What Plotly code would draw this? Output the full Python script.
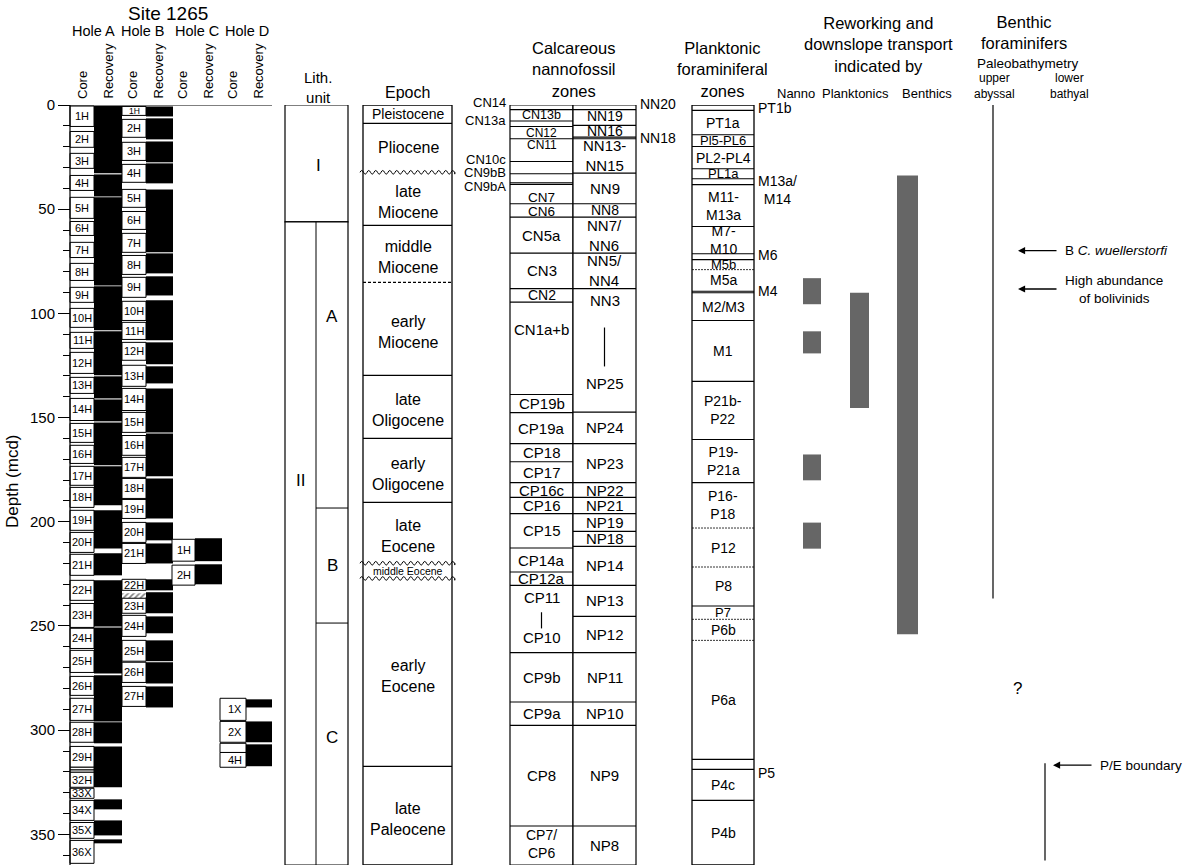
import plotly.graph_objects as go

FONT = "Liberation Sans, Arial, Helvetica, sans-serif"
W, H = 1190, 868
TOP, BOTM = 105, 3
DMAX = 364.7
K = (H - TOP - BOTM) / DMAX


def dep(ypx):
    return (ypx - TOP) / K

# ======================= DATA =======================
# Hole A cores (mcd)
holeA_cores = ["1H", "2H", "3H", "4H", "5H", "6H", "7H", "8H", "9H", "10H", "11H", "12H", "13H", "14H",
               "15H", "16H", "17H", "18H", "19H", "20H", "21H", "22H", "23H", "24H", "25H", "26H", "27H",
               "28H", "29H", "30H", "31H", "32H", "33X", "34X", "35X", "36X"]
holeA_top = [0.5, 12.7, 23.2, 33.8, 44.3, 55.9, 65.9, 76.0, 87.5, 97.6, 109.1, 118.7, 130.7, 140.8, 152.8,
             163.3, 173.4, 183.5, 194.5, 205.1, 215.6, 228.1, 239.2, 251.1, 261.7, 274.2, 284.7, 296.2,
             307.8, 317.8, 319.1, 320.2, 327.9, 333.7, 344.3, 352.9]
holeA_bot = [10.3, 20.3, 30.4, 41.0, 54.4, 62.6, 73.2, 84.2, 94.7, 106.7, 116.8, 128.8, 138.4, 151.4, 161.9,
             172.0, 182.5, 193.1, 204.1, 214.7, 225.7, 237.7, 250.7, 260.8, 272.3, 283.3, 295.3, 305.8,
             317.8, 319.1, 320.2, 327.4, 332.7, 343.3, 351.9, 363.9]
holeA_rec_top = [0.5, 33.3, 44.3, 87.0, 108.6, 130.2, 141.3, 152.3, 173.4, 194.5, 215.1, 228.1, 250.7, 273.7,
                 296.2, 307.8, 333.2, 343.3, 352.4]
holeA_rec_bot = [32.8, 43.9, 86.6, 108.1, 129.7, 140.8, 151.8, 172.9, 192.1, 212.8, 225.7, 250.2, 272.8, 295.8,
                 306.3, 327.4, 338.0, 350.5, 354.3]

# Hole B
holeB_cores = ["1H", "2H", "3H", "4H", "5H", "6H", "7H", "8H", "9H", "10H", "11H", "12H", "13H", "14H",
               "15H", "16H", "17H", "18H", "19H", "20H", "21H", "22H", "23H", "24H", "25H", "26H", "27H"]
holeB_top = [0.7, 6.9, 17.9, 28.5, 40.5, 51.1, 61.6, 72.2, 82.7, 94.2, 104.3, 113.9, 124.9, 136.0, 147.5,
             158.6, 169.1, 179.2, 189.3, 200.3, 210.4, 227.6, 236.7, 244.9, 256.9, 267.4, 279.0]
holeB_bot = [5.0, 15.5, 26.6, 37.1, 49.1, 59.7, 70.7, 81.3, 92.3, 103.4, 112.5, 122.5, 135.0, 146.6, 157.1,
             168.1, 178.7, 188.8, 198.4, 209.9, 220.0, 232.9, 243.9, 255.0, 266.9, 277.1, 288.6]
holeB_rec_top = [0.7, 6.4, 17.5, 28.0, 40.5, 71.2, 82.2, 93.7, 113.9, 125.4, 136.0, 157.6, 179.2, 200.3, 210.4,
                 227.6, 233.8, 245.4, 256.9, 267.4, 279.0]
holeB_rec_bot = [5.5, 16.5, 27.5, 37.6, 70.7, 80.8, 91.4, 112.9, 124.4, 133.6, 157.1, 178.2, 198.4, 208.9, 220.0,
                 232.9, 243.9, 253.5, 266.9, 277.6, 289.1]
holeB_void_top = [234.3]
holeB_void_bot = [236.7]

# Hole C
holeC_cores = ["1H", "2H"]
holeC_top = [208.4, 220.8]
holeC_bot = [218.9, 230.4]
holeC_rec_top = [207.9, 220.4]
holeC_rec_bot = [218.9, 230.0]

# Hole D
holeD_cores = ["1X", "2X", "3X", "4H"]
holeD_top = [284.7, 295.8, 306.3, 310.7]
holeD_bot = [295.3, 305.8, 310.7, 317.8]
holeD_rec_top = [285.2, 295.8, 306.8]
holeD_rec_bot = [289.1, 305.8, 317.3]

# Lithologic units
lith_units = ["I", "II"]
lith_bounds = [0, 56.1, DMAX]
lith_subunits = ["A", "B", "C"]
lith_sub_bounds = [56.1, 193.4, 248.6, DMAX]

# Epochs
epochs = ["Pleistocene", "Pliocene", "late<br>Miocene", "middle<br>Miocene", "early<br>Miocene",
          "late<br>Oligocene", "early<br>Oligocene", "late<br>Eocene", "middle Eocene", "early<br>Eocene",
          "late<br>Paleocene"]
epoch_bounds = [0, 8.8, 32.3, 57.8, 85.1, 129.7, 160.0, 190.7, 219.9, 227.2, 317.4, DMAX]
epoch_contacts = ["solid", "wavy", "solid", "dash", "solid", "solid", "solid", "wavy", "wavy", "solid"]

# Calcareous nannofossil zones, Okada & Bukry (CN/CP)
cn_zones = ["CN14", "CN13b", "CN13a", "CN12", "CN11", "CN10c", "CN9bB", "CN9bA", "CN7", "CN6", "CN5a", "CN3",
            "CN2", "CN1a+b", "CP19b", "CP19a", "CP18", "CP17", "CP16c", "CP16", "CP15", "CP14a", "CP12a",
            "CP11<br>|<br>CP10", "CP9b", "CP9a", "CP8", "CP7/<br>CP6"]
cn_bounds = [0, 2.2, 7.7, 10.3, 16.2, 27.1, 33.0, 37.3, 38.1, 47.4, 53.8, 71.1, 88.1, 94.6, 138.9, 147.6,
             162.5, 171.2, 181.2, 188.3, 196.1, 212.6, 224.1, 230.5, 262.8, 286.5, 297.7, 346.0, DMAX]

# Martini zones (NN/NP)
nn_zones = ["NN20", "NN19", "NN16", "NN18", "NN13-<br>NN15", "NN9", "NN8", "NN7/<br>NN6", "NN5/<br>NN4",
            "NN3<br>|<br>NP25", "NP24", "NP23", "NP22", "NP21", "NP19", "NP18", "NP14", "NP13", "NP12", "NP11",
            "NP10", "NP9", "NP8"]
nn_bounds = [0, 2.2, 9.8, 15.4, 16.2, 32.7, 47.4, 53.8, 71.1, 88.1, 147.4, 162.5, 181.2, 188.3, 196.1, 204.6,
             211.8, 230.5, 245.4, 262.8, 286.5, 297.7, 346.0, DMAX]

# Planktonic foraminiferal zones
pf_zones = ["PT1b", "PT1a", "Pl5-PL6", "PL2-PL4", "PL1a", "M13a/<br>M14", "M11-<br>M13a", "M7-<br>M10", "M6",
            "M5b", "M5a", "M4", "M2/M3", "M1", "P21b-<br>P22", "P19-<br>P21a", "P16-<br>P18", "P12", "P8", "P7",
            "P6b", "P6a", "P5", "P4c", "P4b"]
pf_bounds = [0, 2.6, 14.3, 19.9, 30.6, 35.4, 38.2, 58.3, 71.4, 74.2, 79.0, 89.4, 90.1, 103.4, 132.6, 160.5,
             181.2, 203.0, 221.7, 240.4, 246.8, 256.9, 314.0, 318.8, 333.7, DMAX]
pf_contacts = ["solid", "solid", "solid", "solid", "solid", "solid", "solid", "solid", "solid", "dot", "solid",
               "solid", "solid", "solid", "solid", "solid", "dot", "dot", "solid", "dot", "dot", "solid",
               "solid", "solid"]

# Reworking / downslope transport intervals
rw_nanno_top = [83.1, 108.6, 167.7, 200.4]
rw_nanno_bot = [95.6, 119.2, 180.1, 212.9]
rw_plank_top = [90.1]
rw_plank_bot = [145.4]
rw_benth_top = [33.8]
rw_benth_bot = [254.0]

# Benthic foraminifer paleobathymetry lines
pb_upper_abyssal = [0, 236.8]
pb_lower_bathyal = [315.9, 362.5]
events = ["B <i>C. wuellerstorfi</i>", "High abundance<br>of bolivinids", "P/E boundary"]
event_depths = [69.9, 88.3, 316.8]

ytick_vals = [0, 50, 100, 150, 200, 250, 300, 350]

# ======================= DRAWING =======================
shapes = []
ann = []


def rect(x0, x1, y0, y1, fill="white", lw=1.0, lc="black"):
    shapes.append(dict(type="rect", xref="x", yref="y", x0=x0, x1=x1, y0=y0, y1=y1,
                       fillcolor=fill, line=dict(color=lc, width=lw)))


def line(x0, x1, y0, y1, lw=1.0, dash="solid", color="black"):
    shapes.append(dict(type="line", xref="x", yref="y", x0=x0, x1=x1, y0=y0, y1=y1,
                       line=dict(color=color, width=lw, dash=dash)))


def wavy(x0, x1, y, amp_px=1.8, per_px=7.0, lw=1.0):
    amp = amp_px / K
    p = f"M{x0},{y}"
    x = x0
    s = 1
    while x < x1:
        xn = min(x + per_px / 2, x1)
        p += f" Q{(x + xn) / 2},{y - s * amp * 2} {xn},{y}"
        x = xn
        s = -s
    shapes.append(dict(type="path", xref="x", yref="y", path=p, line=dict(color="black", width=lw)))


def text(x, y, s, size=14, xanchor="center", yanchor="middle", angle=0, color="black"):
    # y given as depth (m); placed in paper coordinates so texts above the 0 m line still show
    ann.append(dict(x=x, y=1 - y / DMAX, xref="x", yref="paper", text=s, showarrow=False,
                    font=dict(family=FONT, size=size, color=color),
                    xanchor=xanchor, yanchor=yanchor, textangle=angle))


# ---- core columns ----
def draw_hole(names, tops, bots, rtops, rbots, xc0, xc1, xr1, fs=11, labels_right=False, small_first=False):
    for i, (n, t, b) in enumerate(zip(names, tops, bots)):
        rect(xc0, xc1, t, b, lw=1.0)
        if b - t > 4.5 or (small_first and i == 0):
            size = fs if b - t > 4.5 else 8.5
            if labels_right:
                text(xc1 - 2, (t + b) / 2, n, size=size, xanchor="right")
            else:
                text((xc0 + xc1) / 2, (t + b) / 2, n, size=size)
    for t, b in zip(rtops, rbots):
        rect(xc1, xr1, t, b, fill="black", lw=0)


draw_hole(holeA_cores, holeA_top, holeA_bot, holeA_rec_top, holeA_rec_bot, 70, 94, 122)
draw_hole(holeB_cores, holeB_top, holeB_bot, holeB_rec_top, holeB_rec_bot, 122, 146, 173, small_first=True)
draw_hole(holeC_cores, holeC_top, holeC_bot, holeC_rec_top, holeC_rec_bot, 172, 195, 222)
draw_hole(holeD_cores, holeD_top, holeD_bot, holeD_rec_top, holeD_rec_bot, 220, 246, 272, labels_right=True)
# left border / axis line of Hole A
line(70, 70, 0, DMAX, lw=1.2)
# top (0 m) line across holes
line(58, 272, 0, 0, lw=1.2)

# ---- lithology ----
text_l_depth = {"I": 28.8, "II": 180.0, "A": 101.5, "B": 221.0, "C": 303.5}
for i, u in enumerate(lith_units):
    rect(285, 348, lith_bounds[i], lith_bounds[i + 1], lw=1.2)
line(316, 316, lith_sub_bounds[0], lith_sub_bounds[-1], lw=1.0)
for b in lith_sub_bounds[1:-1]:
    line(316, 348, b, b, lw=1.0)
text(318, text_l_depth["I"], "I", size=17)
text(300, text_l_depth["II"], "II", size=17)
for s in lith_subunits:
    text(332, text_l_depth[s], s, size=17)

# ---- epochs ----
rect(363, 452, 0, DMAX, lw=1.3)
for i, c in enumerate(epoch_contacts):
    b = epoch_bounds[i + 1]
    if c == "solid":
        line(363, 452, b, b, lw=1.3)
    elif c == "dash":
        line(363, 452, b, b, lw=1.2, dash="3px,2px")
    else:
        wavy(360, 455, b)
for i, e in enumerate(epochs):
    mid = (epoch_bounds[i] + epoch_bounds[i + 1]) / 2
    fs = 16
    if e == "Pleistocene":
        fs = 14
    if e == "middle Eocene":
        fs = 10.5
    text(408, mid + (1.5 if "<br>" in e else 0), e, size=fs)

# ---- nannofossil zones ----
rect(510, 573, 0, DMAX, lw=1.2)
rect(573, 636, 0, DMAX, lw=1.2)
for b in cn_bounds[1:-1]:
    line(510, 573, b, b, lw=1.1)
for b in nn_bounds[1:-1]:
    line(573, 636, b, b, lw=1.1)
cn_outside = {"CN14": -1.0, "CN13a": 7.3, "CN10c": 26.0, "CN9bB": 32.6, "CN9bA": 39.3}
cn_small = {"CN13b": 12.5, "CN12": 12, "CN11": 12, "CN7": 13.5, "CN6": 13.5, "CN2": 14}
for i, z in enumerate(cn_zones):
    t, b = cn_bounds[i], cn_bounds[i + 1]
    if z in cn_outside:
        text(508, cn_outside[z], z, size=13, xanchor="right")
    elif "|" in z:
        parts = z.split("<br>|<br>")
        text(541.5, t + 0.18 * (b - t), parts[0], size=15)
        line(541.5, 541.5, t + 0.4 * (b - t), t + 0.64 * (b - t), lw=1.2)
        text(541.5, t + 0.78 * (b - t), parts[1], size=15)
    else:
        fs = cn_small.get(z, 15)
        y = (t + b) / 2
        if z == "CN11":
            y = t + 2.8
        if z == "CN7":
            y = b - 2.8
        if z == "CN6":
            y = (t + b) / 2 + 0.4
        if z == "CN1a+b":
            y = t + 0.3 * (b - t)
        if z.startswith("CP7"):
            y = (t + b) / 2 - 0.8
            fs = 14
        text(541.5, y, z, size=fs)

nn_outside = {"NN20": -0.6, "NN18": 15.6}
nn_small = {"NN19": 14, "NN16": 14, "NN8": 14}
for i, z in enumerate(nn_zones):
    t, b = nn_bounds[i], nn_bounds[i + 1]
    if z in nn_outside:
        text(638, nn_outside[z], z, size=14, xanchor="left")
    elif "|" in z:
        parts = z.split("<br>|<br>")
        text(604.5, t + 5.6, parts[0], size=15)
        line(604.5, 604.5, t + 0.315 * (b - t), t + 0.63 * (b - t), lw=1.2)
        text(604.5, b - 13.8, parts[1], size=15)
    else:
        fs = nn_small.get(z, 15)
        y = (t + b) / 2
        if z == "NN19":
            y = t + 3.2
        text(604.5, y, z, size=fs)

# ---- planktonic foraminiferal zones ----
rect(692, 754, 0, DMAX, lw=1.3)
for i, c in enumerate(pf_contacts):
    b = pf_bounds[i + 1]
    if c == "dot":
        line(692, 754, b, b, lw=0.8, dash="2px,1px")
    else:
        line(692, 754, b, b, lw=1.1)
pf_outside = {"PT1b": 1.6, "M13a/<br>M14": 41.0, "M6": 72.2, "M4": 89.4, "P5": 320.7}
for i, z in enumerate(pf_zones):
    t, b = pf_bounds[i], pf_bounds[i + 1]
    if z in pf_outside:
        text(756, pf_outside[z], z, size=14, xanchor="left")
    else:
        fs = 14
        if z in ("Pl5-PL6", "PL1a", "M5b", "P7"):
            fs = 13
        text(723, (t + b) / 2, z, size=fs)

# ---- reworking bars ----
GRAY = "#666666"
for t, b in zip(rw_nanno_top, rw_nanno_bot):
    rect(803, 821, t, b, fill=GRAY, lw=0)
for t, b in zip(rw_plank_top, rw_plank_bot):
    rect(850, 869, t, b, fill=GRAY, lw=0)
for t, b in zip(rw_benth_top, rw_benth_bot):
    rect(897, 918, t, b, fill=GRAY, lw=0)

# ---- paleobathymetry ----
line(993, 993, pb_upper_abyssal[0], pb_upper_abyssal[1], lw=1.2)
line(1045, 1045, pb_lower_bathyal[0], pb_lower_bathyal[1], lw=1.2)
text(1017, 279.9, "?", size=17)
for ev, dd in zip(events, event_depths):
    head = 1018 if ev != "P/E boundary" else 1053
    tail = head + 40
    ann.append(dict(x=head, y=dd, xref="x", yref="y", ax=tail, ay=dd, axref="x", ayref="y",
                    text="", showarrow=True, arrowhead=2, arrowsize=1.1, arrowwidth=1.3, arrowcolor="black"))
    text(tail + 5, dd, ev, size=13.5, xanchor="left")

# ---- headers ----
text(168, dep(13), "Site 1265", size=19)
for x, s in zip([93, 143, 197, 247], ["Hole A", "Hole B", "Hole C", "Hole D"]):
    text(x, dep(31), s, size=14.5)
for xc in [83, 133, 183, 233]:
    text(xc, dep(101), "Core", size=13, angle=-90, yanchor="bottom")
    text(xc + 25, dep(101), "Recovery", size=13, angle=-90, yanchor="bottom")
text(318, dep(87), "Lith.<br>unit", size=15)
text(407, dep(92), "Epoch", size=16)
text(573, dep(69), "Calcareous<br>nannofossil<br>zones", size=16.5)
text(722, dep(69), "Planktonic<br>foraminiferal<br>zones", size=16.5)
text(878, dep(44), "Reworking and<br>downslope transport<br>indicated by", size=16.5)
text(796, dep(94), "Nanno", size=13)
text(855, dep(94), "Planktonics", size=13)
text(927, dep(94), "Benthics", size=13)
text(1024, dep(33), "Benthic<br>foraminifers", size=16.5)
text(1028, dep(64), "Paleobathymetry", size=13.5)
text(994, dep(86), "upper<br>abyssal", size=12)
text(1069, dep(86), "lower<br>bathyal", size=12)
text(12, dep(481), "Depth (mcd)", size=17, angle=-90)

fig = go.Figure()
# hatched (disturbed) interval in Hole B core column
fig.add_trace(go.Bar(x=[134], y=[b - t for t, b in zip(holeB_void_top, holeB_void_bot)], base=holeB_void_top,
                     width=[24], marker=dict(color="white", line=dict(width=0),
                                             pattern=dict(shape="/", fgcolor="black", size=4, solidity=0.4)),
                     hoverinfo="skip", showlegend=False))

fig.update_layout(
    width=W, height=H, margin=dict(l=0, r=0, t=TOP, b=BOTM, autoexpand=False),
    paper_bgcolor="white", plot_bgcolor="white", showlegend=False,
    shapes=shapes, annotations=ann,
    xaxis=dict(range=[0, W], visible=False, fixedrange=True, automargin=False),
    yaxis=dict(range=[DMAX, 0], anchor="free", position=70 / W, side="left", automargin=False,
               showgrid=False, zeroline=False, showline=False,
               tickvals=ytick_vals, ticks="outside", ticklen=12, tickwidth=1.3, tickcolor="black",
               tickfont=dict(family=FONT, size=15, color="black"),
               minor=dict(dtick=10, ticks="outside", ticklen=7, tickwidth=1.2, tickcolor="black"),
               fixedrange=True),
)
fig.write_html("out.html", config={"displayModeBar": False},
               post_script="document.body.style.margin='0px';document.body.style.overflow='hidden';")
